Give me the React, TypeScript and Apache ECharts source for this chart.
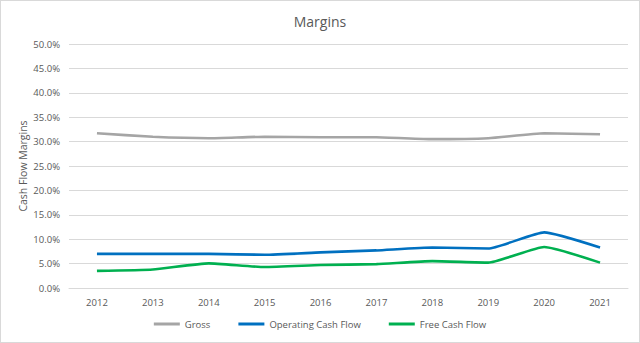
import React, { useEffect, useRef } from "react";
import * as echarts from "echarts";

const years = ["2012", "2013", "2014", "2015", "2016", "2017", "2018", "2019", "2020", "2021"];
const gross = [31.7, 31.0, 30.7, 31.0, 30.9, 30.9, 30.5, 30.7, 31.7, 31.5];
const operatingCashFlow = [7.0, 7.0, 7.0, 6.8, 7.3, 7.7, 8.3, 8.1, 11.4, 8.3];
const freeCashFlow = [3.5, 3.8, 5.05, 4.3, 4.7, 4.9, 5.5, 5.2, 8.4, 5.2];

const FONT = "'Open Sans', 'Noto Sans', sans-serif";

export default function App() {
  const ref = useRef<HTMLDivElement>(null);
  useEffect(() => {
    if (!ref.current) return;
    const chart = echarts.init(ref.current, null, { renderer: "svg" });
    const mk = (name: string, data: number[], color: string) => ({
      name,
      type: "line",
      data,
      symbol: "none",
      smooth: 0.15,
      lineStyle: { color, width: 2.6 },
      itemStyle: { color },
    });
    chart.setOption({
      animation: false,
      backgroundColor: "#ffffff",
      title: {
        text: "Margins",
        left: "center",
        top: 8,
        textStyle: { fontFamily: FONT, fontSize: 14, fontWeight: "normal", color: "#595959" },
      },
      grid: { left: 68, right: 11, top: 43, bottom: 54 },
      legend: {
        bottom: 8,
        left: "center",
        itemWidth: 26,
        itemHeight: 3,
        itemGap: 28,
        icon: "rect",
        textStyle: { fontFamily: FONT, fontSize: 9.5, color: "#595959" },
        data: ["Gross", "Operating Cash Flow", "Free Cash Flow"],
      },
      xAxis: {
        type: "category",
        data: years,
        boundaryGap: true,
        axisLine: { lineStyle: { color: "#d9d9d9" } },
        axisTick: { show: false },
        axisLabel: { fontFamily: FONT, fontSize: 9.5, color: "#595959", margin: 9 },
      },
      yAxis: {
        type: "value",
        min: 0,
        max: 50,
        interval: 5,
        name: "Cash Flow Margins",
        nameLocation: "middle",
        nameGap: 41,
        nameMoveOverlap: false,
        nameTextStyle: { fontFamily: FONT, fontSize: 10.5, color: "#595959" },
        axisLine: { show: false },
        axisTick: { show: false },
        splitLine: { lineStyle: { color: "#d9d9d9" } },
        axisLabel: {
          fontFamily: FONT,
          fontSize: 9.5,
          color: "#595959",
          margin: 9,
          formatter: (v: number) => v.toFixed(1) + "%",
        },
      },
      series: [
        mk("Gross", gross, "#A5A5A5"),
        mk("Operating Cash Flow", operatingCashFlow, "#0070C0"),
        mk("Free Cash Flow", freeCashFlow, "#00B050"),
      ],
    });
    return () => chart.dispose();
  }, []);
  return (
    <div
      style={{
        position: "absolute",
        left: 0,
        top: 0,
        width: 640,
        height: 343,
        boxSizing: "border-box",
        border: "1px solid #d9d9d9",
        background: "#fff",
      }}
    >
      <div ref={ref} style={{ width: 638, height: 341 }} />
    </div>
  );
}
